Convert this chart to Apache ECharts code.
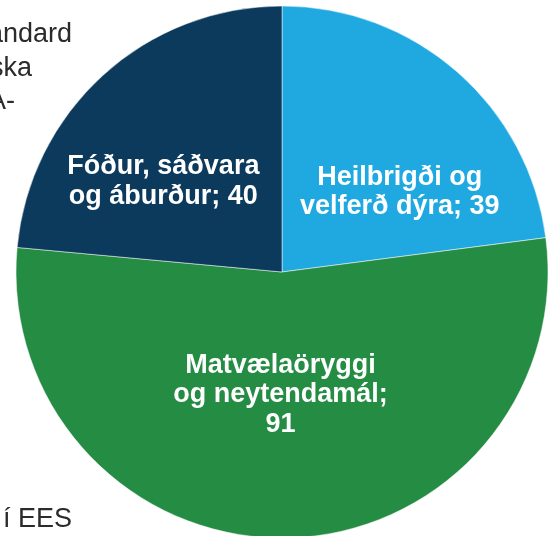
<!DOCTYPE html>
<html>
<head>
<meta charset="utf-8">
<script src="https://cdn.jsdelivr.net/npm/echarts@6/dist/echarts.min.js"></script>
<style>html,body{margin:0;padding:0;background:#fff;}#c{width:557px;height:536px;}</style>
</head>
<body>
<div id="c"></div>
<script>
// Data
const categories = ['Heilbrigði og\nvelferð dýra', 'Matvælaöryggi\nog neytendamál', 'Fóður, sáðvara\nog áburður'];
const values = [39, 91, 40];
const separators = ['; ', ';\n', '; '];
const colors = ['#20a9e1', '#248c43', '#0c3a5d'];
const sideTexts = ['andard', 'ska', 'A-', 'í EES'];

const chart = echarts.init(document.getElementById('c'), null, {renderer: 'canvas'});
const labelShift = [[28, 22], [-4, -13], [-27, 10]];
const textColor = '#2b2b2b';
const font = 'Liberation Sans, Arial, Helvetica, sans-serif';
const sideStyle = (t) => ({text: t, fill: textColor, font: '27px ' + font, textAlign: 'right'});

chart.setOption({
  animation: false,
  backgroundColor: '#ffffff',
  graphic: [
    {type: 'text', right: 557 - 72, top: 21, style: sideStyle(sideTexts[0])},
    {type: 'text', right: 557 - 32, top: 55, style: sideStyle(sideTexts[1])},
    {type: 'text', right: 557 - 15, top: 88, style: sideStyle(sideTexts[2])},
    {type: 'text', right: 557 - 72, top: 506, style: sideStyle(sideTexts[3])}
  ],
  series: [{
    type: 'pie',
    center: [282, 272],
    radius: [0, 266],
    startAngle: 90,
    clockwise: true,
    silent: true,
    itemStyle: {borderColor: '#ffffff', borderWidth: 0.5},
    label: {
      show: true,
      position: 'inside',
      color: '#ffffff',
      fontFamily: font,
      fontWeight: 'bold',
      fontSize: 27,
      lineHeight: 29.5,
      align: 'center',
      formatter: p => p.name + separators[p.dataIndex] + p.value
    },
    labelLine: {show: false},
    labelLayout: p => ({dx: labelShift[p.dataIndex][0], dy: labelShift[p.dataIndex][1]}),
    data: categories.map((c, i) => ({name: c, value: values[i], itemStyle: {color: colors[i]}}))
  }]
});
</script>
</body>
</html>
